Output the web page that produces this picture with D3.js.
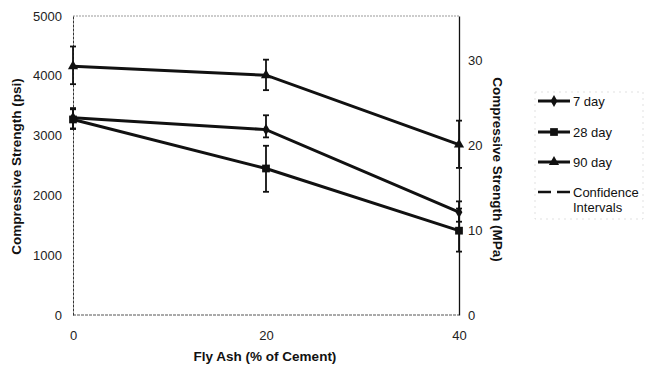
<!DOCTYPE html>
<html><head><meta charset="utf-8">
<script src="https://cdn.jsdelivr.net/npm/d3@7"></script>
<style>
body{margin:0;background:#fff;}
svg{display:block;font-family:"Liberation Sans",Arial,sans-serif;}
</style></head>
<body>
<svg id="c" width="647" height="368"></svg>
<script>
const flyAsh = [0, 20, 40];
const xTicks = [0, 20, 40];
const psiTicks = [0, 1000, 2000, 3000, 4000, 5000];
const mpaTicks = [0, 10, 20, 30];
const seriesNames = ["7 day", "28 day", "90 day"];
const day7 = [3300, 3100, 1720];
const day28 = [3270, 2450, 1410];
const day90 = [4160, 4010, 2850];
const day7Low = [3120, 2970, 1560];
const day7High = [3460, 3340, 1900];
const day28Low = [3110, 2060, 1060];
const day28High = [3440, 2830, 1780];
const day90Low = [3860, 3760, 2460];
const day90High = [4490, 4270, 3250];

const svg = d3.select("#c");
const L = 73, R = 459, T = 16, B = 315;
const x = d3.scaleLinear().domain([0, 40]).range([L, R]);
const y = d3.scaleLinear().domain([0, 5000]).range([B, T]);
const yM = d3.scaleLinear().domain([0, 35.2]).range([B, T]);
const FF = "Liberation Sans, Arial, sans-serif";

svg.append("line").attr("x1", L).attr("x2", R).attr("y1", T).attr("y2", T)
  .attr("stroke", "#999").attr("stroke-width", 1).attr("stroke-dasharray", "2,1");
svg.append("line").attr("x1", L).attr("x2", R).attr("y1", B).attr("y2", B)
  .attr("stroke", "#555").attr("stroke-width", 1).attr("stroke-dasharray", "3,1");

const gL = svg.append("g").attr("transform", `translate(${L},0)`)
  .call(d3.axisLeft(y).tickValues(psiTicks).tickSize(0).tickPadding(11).tickFormat(d3.format("d")));
gL.select(".domain").attr("stroke", "#333").attr("stroke-width", 1).attr("stroke-dasharray", "3,1");
gL.selectAll("text").attr("font-size", 13).attr("fill", "#222").attr("font-family", FF);

const gR = svg.append("g").attr("transform", `translate(${R},0)`)
  .call(d3.axisRight(yM).tickValues(mpaTicks).tickSize(0).tickPadding(9).tickFormat(d3.format("d")));
gR.select(".domain").attr("stroke", "#111").attr("stroke-width", 1.3);
gR.selectAll("text").attr("font-size", 13).attr("fill", "#222").attr("font-family", FF);

const gB = svg.append("g").attr("transform", `translate(0,${B})`)
  .call(d3.axisBottom(x).tickValues(xTicks).tickSize(0).tickPadding(16).tickFormat(d3.format("d")));
gB.select(".domain").remove();
gB.selectAll("text").attr("font-size", 13).attr("fill", "#222").attr("font-family", FF);

svg.append("text").attr("transform", `translate(21,${(T + B) / 2 + 1}) rotate(-90)`)
  .attr("text-anchor", "middle").attr("font-size", 13.5).attr("font-weight", "bold").attr("fill", "#111")
  .text("Compressive Strength (psi)");
svg.append("text").attr("transform", `translate(493,${(T + B) / 2 + 4}) rotate(90)`)
  .attr("text-anchor", "middle").attr("font-size", 13.5).attr("font-weight", "bold").attr("fill", "#111")
  .text("Compressive Strength (MPa)");
svg.append("text").attr("x", (L + R) / 2 - 1).attr("y", 361)
  .attr("text-anchor", "middle").attr("font-size", 13.5).attr("font-weight", "bold").attr("fill", "#111")
  .text("Fly Ash (% of Cement)");

const series = [
  {name: seriesNames[0], vals: day7, lo: day7Low, hi: day7High, sym: d3.symbolDiamond, size: 40},
  {name: seriesNames[1], vals: day28, lo: day28Low, hi: day28High, sym: d3.symbolSquare, size: 60},
  {name: seriesNames[2], vals: day90, lo: day90Low, hi: day90High, sym: d3.symbolTriangle, size: 45}
];

series.forEach(s => {
  flyAsh.forEach((fa, i) => {
    const g = svg.append("g").attr("stroke", "#111").attr("stroke-width", 1.8);
    g.append("line").attr("x1", x(fa)).attr("x2", x(fa)).attr("y1", y(s.lo[i])).attr("y2", y(s.hi[i]));
    g.append("line").attr("x1", x(fa) - 3).attr("x2", x(fa) + 3).attr("y1", y(s.lo[i])).attr("y2", y(s.lo[i]));
    g.append("line").attr("x1", x(fa) - 3).attr("x2", x(fa) + 3).attr("y1", y(s.hi[i])).attr("y2", y(s.hi[i]));
  });
});

const line = d3.line().x((d, i) => x(flyAsh[i])).y(d => y(d));
series.forEach(s => {
  svg.append("path").datum(s.vals).attr("d", line)
    .attr("fill", "none").attr("stroke", "#111").attr("stroke-width", 3);
  svg.selectAll(null).data(s.vals).enter().append("path")
    .attr("d", d3.symbol().type(s.sym).size(s.size))
    .attr("transform", (d, i) => `translate(${x(flyAsh[i])},${y(d)})`)
    .attr("fill", "#111");
});

const lg = svg.append("g");
lg.append("rect").attr("x", 535).attr("y", 92).attr("width", 108).attr("height", 127)
  .attr("fill", "none").attr("stroke", "#ccc").attr("stroke-width", 0.6).attr("stroke-dasharray", "2,4");
const ly = [101, 132, 162];
series.forEach((s, i) => {
  lg.append("line").attr("x1", 538).attr("x2", 570).attr("y1", ly[i]).attr("y2", ly[i])
    .attr("stroke", "#111").attr("stroke-width", 3);
  lg.append("path").attr("d", d3.symbol().type(s.sym).size(s.size))
    .attr("transform", `translate(554,${ly[i]})`).attr("fill", "#111");
  lg.append("text").attr("x", 573).attr("y", ly[i] + 4.5).attr("font-size", 13).attr("fill", "#111").text(s.name);
});
lg.append("line").attr("x1", 538).attr("x2", 570).attr("y1", 192).attr("y2", 192)
  .attr("stroke", "#111").attr("stroke-width", 2.5).attr("stroke-dasharray", "13,6");
lg.append("text").attr("x", 573).attr("y", 196.5).attr("font-size", 13).attr("fill", "#111").text("Confidence");
lg.append("text").attr("x", 573).attr("y", 212).attr("font-size", 13).attr("fill", "#111").text("Intervals");
</script>
</body></html>
